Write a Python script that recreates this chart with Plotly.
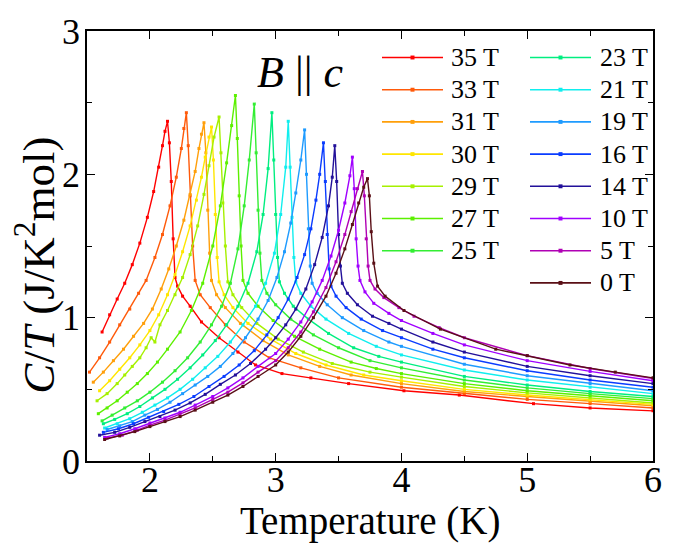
import plotly.graph_objects as go

# ---- specific heat C/T (J/K^2 mol) vs temperature (K), B || c ----
T_35 = [1.62, 1.68, 1.74, 1.80, 1.86, 1.92, 1.98, 2.03, 2.07, 2.10, 2.12, 2.14, 2.155, 2.17, 2.185, 2.20,
        2.22, 2.26, 2.32, 2.41, 2.55, 2.70, 2.84, 3.05, 3.28, 3.58, 4.02, 4.46, 5.05, 5.50, 6.00]
CT_35 = [0.90, 1.02, 1.13, 1.24, 1.37, 1.52, 1.70, 1.88, 2.05, 2.20, 2.30, 2.37, 2.22, 1.95, 1.55, 1.28,
         1.22, 1.15, 1.08, 0.97, 0.86, 0.76, 0.67, 0.61, 0.58, 0.54, 0.49, 0.46, 0.40, 0.37, 0.35]

T_33 = [1.52, 1.60, 1.68, 1.76, 1.84, 1.91, 1.97, 2.04, 2.10, 2.16, 2.21, 2.25, 2.27, 2.29, 2.305, 2.32, 2.34, 2.36,
        2.40, 2.48, 2.60, 2.75, 2.95, 3.20, 3.50, 4.00, 4.50, 5.00, 5.50, 6.00]
CT_33 = [0.62, 0.72, 0.83, 0.95, 1.06, 1.17, 1.26, 1.42, 1.58, 1.78, 1.98, 2.18, 2.32, 2.43, 2.20, 1.85, 1.50, 1.26,
         1.16, 1.07, 0.95, 0.83, 0.72, 0.65, 0.58, 0.515, 0.47, 0.43, 0.40, 0.37]

T_31 = [1.55, 1.63, 1.71, 1.79, 1.87, 1.95, 2.02, 2.09, 2.15, 2.21, 2.27, 2.32, 2.36, 2.39, 2.41, 2.43,
        2.445, 2.46, 2.475, 2.49, 2.53, 2.60, 2.72, 2.90, 3.10, 3.35, 3.60, 4.00, 4.50, 5.00, 5.50, 6.00]
CT_31 = [0.55, 0.62, 0.70, 0.78, 0.87, 0.96, 1.06, 1.20, 1.34, 1.50, 1.68, 1.86, 2.02, 2.18, 2.28, 2.36,
         2.15, 1.75, 1.45, 1.26, 1.16, 1.07, 0.96, 0.84, 0.74, 0.66, 0.60, 0.54, 0.485, 0.45, 0.415, 0.385]

T_30 = [1.60, 1.68, 1.76, 1.84, 1.92, 2.00, 2.07, 2.14, 2.20, 2.26, 2.32, 2.37, 2.41, 2.44, 2.47, 2.49,
        2.505, 2.52, 2.535, 2.55, 2.59, 2.66, 2.78, 2.96, 3.16, 3.40, 3.70, 4.00, 4.50, 5.00, 5.50, 6.00]
CT_30 = [0.49, 0.56, 0.64, 0.72, 0.81, 0.91, 1.02, 1.16, 1.30, 1.46, 1.64, 1.82, 1.98, 2.12, 2.26, 2.33,
         2.10, 1.72, 1.42, 1.25, 1.16, 1.07, 0.96, 0.85, 0.75, 0.67, 0.60, 0.56, 0.50, 0.46, 0.43, 0.395]

T_29 = [1.58, 1.66, 1.74, 1.80, 1.86, 1.92, 1.97, 2.01, 2.04, 2.08, 2.14, 2.20, 2.26, 2.32, 2.38, 2.43, 2.47, 2.51, 2.55,
        2.565, 2.58, 2.60, 2.62, 2.66, 2.73, 2.85, 3.02, 3.22, 3.45, 3.75, 4.00, 4.50, 5.00, 5.50, 6.00]
CT_29 = [0.42, 0.47, 0.54, 0.60, 0.66, 0.72, 0.79, 0.86, 0.83, 0.95, 1.05, 1.16, 1.28, 1.44, 1.64, 1.86, 2.06, 2.26, 2.40,
         2.15, 1.80, 1.50, 1.25, 1.16, 1.07, 0.96, 0.85, 0.76, 0.68, 0.62, 0.585, 0.52, 0.475, 0.44, 0.405]

T_27 = [1.59, 1.66, 1.74, 1.82, 1.90, 1.98, 2.06, 2.14, 2.24, 2.33, 2.42, 2.50, 2.56, 2.61, 2.65, 2.68,
        2.695, 2.71, 2.725, 2.74, 2.78, 2.86, 2.98, 3.15, 3.35, 3.60, 3.80, 4.00, 4.50, 5.00, 5.50, 6.00]
CT_27 = [0.33, 0.37, 0.42, 0.48, 0.54, 0.61, 0.69, 0.78, 0.90, 1.05, 1.24, 1.50, 1.78, 2.08, 2.34, 2.55,
         2.25, 1.85, 1.50, 1.26, 1.17, 1.08, 0.98, 0.87, 0.78, 0.69, 0.645, 0.61, 0.54, 0.49, 0.455, 0.42]

T_25 = [1.62, 1.70, 1.80, 1.90, 2.00, 2.10, 2.20, 2.30, 2.40, 2.49, 2.57, 2.64, 2.70, 2.75, 2.79, 2.83,
        2.845, 2.86, 2.875, 2.89, 2.93, 3.00, 3.12, 3.30, 3.50, 3.75, 4.00, 4.50, 5.00, 5.50, 6.00]
CT_25 = [0.28, 0.32, 0.37, 0.42, 0.48, 0.55, 0.63, 0.72, 0.83, 0.95, 1.08, 1.24, 1.48, 1.78, 2.10, 2.49,
         2.15, 1.75, 1.45, 1.26, 1.17, 1.09, 0.99, 0.88, 0.79, 0.70, 0.65, 0.565, 0.51, 0.47, 0.435]

T_23 = [1.63, 1.72, 1.82, 1.92, 2.02, 2.12, 2.22, 2.32, 2.42, 2.52, 2.61, 2.70, 2.78, 2.85, 2.90, 2.94, 2.97,
        2.985, 3.00, 3.015, 3.03, 3.07, 3.14, 3.26, 3.42, 3.62, 3.82, 4.00, 4.50, 5.00, 5.50, 6.00]
CT_23 = [0.26, 0.29, 0.33, 0.38, 0.44, 0.50, 0.57, 0.65, 0.74, 0.84, 0.95, 1.08, 1.24, 1.46, 1.72, 2.04, 2.43,
         2.10, 1.72, 1.42, 1.25, 1.17, 1.08, 0.99, 0.89, 0.79, 0.73, 0.69, 0.59, 0.53, 0.485, 0.45]

T_21 = [1.64, 1.74, 1.84, 1.94, 2.04, 2.14, 2.24, 2.34, 2.44, 2.54, 2.64, 2.74, 2.84, 2.92, 2.99, 3.04, 3.08, 3.10,
        3.115, 3.13, 3.145, 3.16, 3.20, 3.28, 3.40, 3.58, 3.80, 4.00, 4.50, 5.00, 5.50, 6.00]
CT_21 = [0.23, 0.26, 0.295, 0.34, 0.39, 0.44, 0.50, 0.57, 0.65, 0.73, 0.83, 0.95, 1.08, 1.24, 1.45, 1.72, 2.05, 2.37,
         2.05, 1.70, 1.42, 1.25, 1.17, 1.08, 0.99, 0.89, 0.80, 0.74, 0.635, 0.565, 0.515, 0.47]

T_19 = [1.66, 1.76, 1.86, 1.96, 2.06, 2.16, 2.26, 2.36, 2.46, 2.56, 2.66, 2.76, 2.86, 2.94, 3.01, 3.07, 3.12, 3.16,
        3.20, 3.23, 3.245, 3.26, 3.275, 3.29, 3.33, 3.41, 3.53, 3.70, 3.90, 4.00, 4.50, 5.00, 5.50, 6.00]
CT_19 = [0.22, 0.245, 0.275, 0.32, 0.36, 0.41, 0.47, 0.53, 0.59, 0.66, 0.75, 0.86, 0.99, 1.12, 1.28, 1.46, 1.66, 1.87,
         2.10, 2.31, 2.00, 1.62, 1.36, 1.24, 1.17, 1.09, 1.00, 0.91, 0.83, 0.80, 0.675, 0.595, 0.54, 0.49]

T_16 = [1.63, 1.75, 1.87, 1.99, 2.11, 2.23, 2.35, 2.47, 2.59, 2.71, 2.83, 2.93, 3.02, 3.10, 3.17, 3.23, 3.28, 3.32,
        3.35, 3.38, 3.395, 3.41, 3.425, 3.44, 3.48, 3.56, 3.68, 3.85, 4.00, 4.25, 4.50, 5.00, 5.50, 6.00]
CT_16 = [0.20, 0.225, 0.26, 0.305, 0.345, 0.395, 0.45, 0.52, 0.59, 0.67, 0.77, 0.88, 1.00, 1.13, 1.28, 1.44, 1.62, 1.82,
         2.00, 2.22, 1.95, 1.58, 1.34, 1.22, 1.15, 1.07, 0.99, 0.91, 0.86, 0.78, 0.72, 0.63, 0.565, 0.515]

T_14 = [1.60, 1.72, 1.84, 1.96, 2.08, 2.20, 2.32, 2.44, 2.56, 2.68, 2.80, 2.92, 3.00, 3.08, 3.16, 3.24, 3.31, 3.37,
        3.42, 3.45, 3.47, 3.485, 3.50, 3.515, 3.53, 3.57, 3.65, 3.77, 3.90, 4.00, 4.25, 4.50, 5.00, 5.50, 6.00]
CT_14 = [0.18, 0.20, 0.235, 0.275, 0.31, 0.355, 0.405, 0.465, 0.535, 0.60, 0.68, 0.78, 0.86, 0.95, 1.06, 1.20, 1.37, 1.56,
         1.78, 1.98, 2.20, 1.95, 1.58, 1.36, 1.24, 1.17, 1.09, 1.01, 0.96, 0.92, 0.83, 0.76, 0.66, 0.595, 0.54]

T_10 = [1.64, 1.76, 1.88, 2.00, 2.12, 2.24, 2.36, 2.50, 2.62, 2.74, 2.86, 3.00, 3.10, 3.20, 3.29, 3.37, 3.44, 3.50,
        3.55, 3.59, 3.61, 3.625, 3.64, 3.655, 3.67, 3.71, 3.78, 3.90, 4.00, 4.25, 4.50, 5.00, 5.50, 6.00]
CT_10 = [0.165, 0.19, 0.225, 0.265, 0.30, 0.34, 0.39, 0.45, 0.51, 0.58, 0.66, 0.75, 0.85, 0.97, 1.11, 1.26, 1.43, 1.61,
         1.80, 1.99, 2.12, 1.90, 1.55, 1.36, 1.26, 1.18, 1.10, 1.03, 0.98, 0.89, 0.81, 0.70, 0.625, 0.56]

T_5 = [1.66, 1.78, 1.90, 2.00, 2.12, 2.24, 2.36, 2.50, 2.62, 2.74, 2.86, 3.00, 3.10, 3.20, 3.30, 3.40, 3.48, 3.55,
       3.60, 3.65, 3.69, 3.705, 3.72, 3.735, 3.75, 3.79, 3.86, 3.98, 4.10, 4.30, 4.50, 5.00, 5.50, 6.00]
CT_5 = [0.16, 0.18, 0.215, 0.25, 0.285, 0.325, 0.37, 0.43, 0.48, 0.545, 0.62, 0.70, 0.79, 0.90, 1.04, 1.21, 1.39, 1.58,
        1.74, 1.90, 2.02, 1.85, 1.55, 1.36, 1.26, 1.20, 1.14, 1.07, 1.01, 0.93, 0.86, 0.735, 0.645, 0.575]

T_0 = [1.64, 1.76, 1.88, 2.00, 2.12, 2.24, 2.36, 2.50, 2.62, 2.74, 2.86, 3.00, 3.10, 3.20, 3.30, 3.40, 3.48, 3.55,
       3.61, 3.66, 3.70, 3.73, 3.745, 3.76, 3.78, 3.81, 3.87, 4.02, 4.31, 4.75, 5.00, 5.34, 5.70, 6.00]
CT_0 = [0.15, 0.175, 0.205, 0.24, 0.275, 0.31, 0.355, 0.41, 0.46, 0.52, 0.59, 0.67, 0.76, 0.87, 1.00, 1.15, 1.31, 1.48,
        1.65, 1.80, 1.91, 1.97, 1.85, 1.60, 1.38, 1.22, 1.15, 1.05, 0.92, 0.78, 0.735, 0.67, 0.62, 0.58]

FIELD_LABELS = ["35 T", "33 T", "31 T", "30 T", "29 T", "27 T", "25 T",
                "23 T", "21 T", "19 T", "16 T", "14 T", "10 T", "5 T", "0 T"]
COLORS = ["#ff0000", "#ff5a0a", "#ff9f0a", "#ffe600", "#a6f000", "#5cf000", "#33ee33",
          "#00ee80", "#10eeee", "#1e9bff", "#0a3cff", "#22109a", "#a000ff", "#b000b4", "#5a0f16"]
SERIES = [(T_35, CT_35), (T_33, CT_33), (T_31, CT_31), (T_30, CT_30), (T_29, CT_29),
          (T_27, CT_27), (T_25, CT_25), (T_23, CT_23), (T_21, CT_21), (T_19, CT_19),
          (T_16, CT_16), (T_14, CT_14), (T_10, CT_10), (T_5, CT_5), (T_0, CT_0)]

X_RANGE = [1.5, 6.0]
Y_RANGE = [0, 3]
X_TICKS = [2, 3, 4, 5, 6]
X_MINOR = [2.5, 3.5, 4.5, 5.5]
Y_TICKS = [0, 1, 2, 3]
Y_MINOR = [0.5, 1.5, 2.5]

W, H = 680, 543
ML, MR, MT, MB = 87, 27, 23, 82
PW, PH = W - ML - MR, H - MT - MB
FONT = "Liberation Serif"


def px(x, y):
    """pixel position -> paper coordinates"""
    return (x - ML) / PW, (H - MB - y) / PH


fig = go.Figure()
for (t, c), name, col in zip(SERIES, FIELD_LABELS, COLORS):
    fig.add_trace(go.Scatter(
        x=t, y=c, mode="lines+markers", name=name, showlegend=False,
        line=dict(color=col, width=1.4),
        marker=dict(color=col, size=3, symbol="square"),
    ))

axis_common = dict(
    ticks="inside", ticklen=8, tickwidth=1.3, tickcolor="black",
    showline=True, linewidth=1.5, linecolor="black", mirror="ticks",
    showgrid=False, zeroline=False,
    tickfont=dict(family=FONT, size=36, color="black"),
)
fig.update_xaxes(range=X_RANGE, tickmode="array", tickvals=X_TICKS, ticklabelstandoff=-14,
                 minor=dict(tickmode="array", tickvals=X_MINOR, ticks="inside",
                            ticklen=5, tickwidth=1.3, tickcolor="black"),
                 **axis_common)
fig.update_yaxes(range=Y_RANGE, tickmode="array", tickvals=Y_TICKS, ticklabelstandoff=-2,
                 minor=dict(tickmode="array", tickvals=Y_MINOR, ticks="inside",
                            ticklen=5, tickwidth=1.3, tickcolor="black"),
                 **axis_common)

annotations = []
shapes = []

# axis titles
ax, ay = px(370, 522)
annotations.append(dict(x=ax, y=ay, xref="paper", yref="paper", showarrow=False,
                        text="Temperature (K)", font=dict(family=FONT, size=39, color="black"),
                        xanchor="center", yanchor="middle"))
ax, ay = px(36, 262)
annotations.append(dict(x=ax, y=ay, xref="paper", yref="paper", showarrow=False, textangle=-90,
                        text="<i>C</i>/<i>T</i> (J/K<sup>2</sup>mol)",
                        font=dict(family=FONT, size=45, color="black"),
                        xanchor="center", yanchor="middle"))

# field orientation label
ax, ay = px(300, 65)
annotations.append(dict(x=ax, y=ay, xref="paper", yref="paper", showarrow=False,
                        text="<i>B</i> || <i>c</i>", font=dict(family=FONT, size=44, color="black"),
                        xanchor="center", yanchor="middle"))

# two-column legend
ROW0, ROW_STEP = 50, 32.8
COLS = [(382, 443, 449), (530, 591, 598)]
for i, (name, col) in enumerate(zip(FIELD_LABELS, COLORS)):
    ci, ri = (0, i) if i < 7 else (1, i - 7)
    x0, x1, xt = COLS[ci]
    yy = ROW0 + ri * ROW_STEP
    p0x, p0y = px(x0, yy)
    p1x, _ = px(x1, yy)
    shapes.append(dict(type="line", xref="paper", yref="paper", x0=p0x, x1=p1x, y0=p0y, y1=p0y,
                       line=dict(color=col, width=1.6)))
    mx = (x0 + x1) / 2
    a0x, a0y = px(mx - 2, yy - 2)
    a1x, a1y = px(mx + 2, yy + 2)
    shapes.append(dict(type="rect", xref="paper", yref="paper", x0=a0x, x1=a1x, y0=a1y, y1=a0y,
                       line=dict(color=col, width=0), fillcolor=col))
    tx, ty = px(xt, yy)
    annotations.append(dict(x=tx, y=ty, xref="paper", yref="paper", showarrow=False, text=name,
                            font=dict(family=FONT, size=26, color="black"),
                            xanchor="left", yanchor="middle"))

fig.update_layout(
    width=W, height=H,
    margin=dict(l=ML, r=MR, t=MT, b=MB),
    paper_bgcolor="white", plot_bgcolor="white",
    font=dict(family=FONT, color="black"),
    annotations=annotations, shapes=shapes,
    showlegend=False,
)

fig.write_html("out.html")
